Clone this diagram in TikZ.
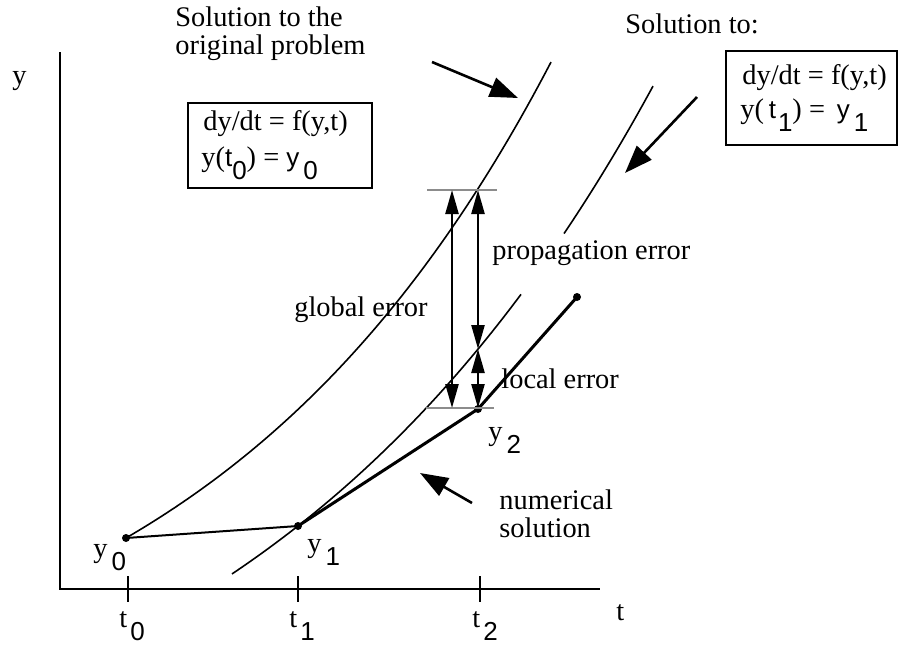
\documentclass[tikz,border=0pt]{standalone}
\usepackage{fontspec}
\setmainfont{Liberation Serif}
\newfontfamily\sfd{Liberation Sans}
\usetikzlibrary{arrows.meta}
\newcommand{\sbs}[1]{\raisebox{-6.5pt}{\sfd\fontsize{13}{13}\selectfont #1}}
\newcommand{\sfl}[1]{{\sfd\fontsize{13}{13}\selectfont #1}}
\begin{document}
\begin{tikzpicture}[x=0.5pt,y=-0.5pt,
  font=\fontsize{14.2}{14.2}\selectfont,
  axisline/.style={line width=1.3pt},
  curve/.style={line width=0.8pt},
  numthin/.style={line width=1pt},
  numthick/.style={line width=1.5pt},
  pointer/.style={line width=1.3pt,-{Triangle[length=14pt,width=10pt]}},
  errarrow/.style={line width=1.2pt,{Triangle[length=12pt,width=6.5pt]}-{Triangle[length=12pt,width=6.5pt]}},
  grayline/.style={line width=1pt,black!45},
  dot/.style={circle,fill,inner sep=0pt,minimum size=4pt},
  box/.style={draw,line width=1pt,inner sep=0pt},
  lbl/.style={inner sep=0pt}]
\useasboundingbox (0,0) rectangle (909,664);

% axes
\coordinate (ytop) at (60,52);
\coordinate (orig) at (60,589);
\coordinate (xend) at (600,589);
\draw[axisline] (ytop) -- (orig) -- (xend);
\foreach \n/\xx in {0/128,1/298,2/480}{
  \coordinate (tk\n a) at (\xx,576);
  \coordinate (tk\n b) at (\xx,602);
  \draw[axisline] (tk\n a) -- (tk\n b);
}
\node[lbl,anchor=base west] (t0) at (119,627) {t\hspace{1.5pt}\sbs{0}};
\node[lbl,anchor=base west] (t1) at (289,627) {t\hspace{1.5pt}\sbs{1}};
\node[lbl,anchor=base west] (t2) at (472,627) {t\hspace{1.5pt}\sbs{2}};
\node[lbl,anchor=base west] (tax) at (616,620) {t};
\node[lbl,anchor=base west] (yax) at (12,84) {y};

% exact solutions
\draw[curve] plot[domain=126:551,samples=70] (\x,{538-207.14*(exp(0.0028*(\x-126))-1)});
\draw[curve] plot[domain=232:521,samples=60] (\x,{526-328.125*(exp(0.0024*(\x-298))-1)});
\draw[curve] plot[domain=564:653,samples=20] (\x,{526-328.125*(exp(0.0024*(\x-298))-1)});

% numerical solution
\node[dot] (y0) at (126,538) {};
\node[dot] (y1) at (298,526) {};
\node[dot] (y2) at (478,409) {};
\node[dot] (y3) at (577,297) {};
\draw[numthin] (y0.center) -- (y1.center);
\draw[numthick] (y1.center) -- (y2.center) -- (y3.center);

\node[lbl,anchor=base west] (ly0) at (93,557) {y\hspace{2pt}\sbs{0}};
\node[lbl,anchor=base west] (ly1) at (307,552) {y\hspace{2pt}\sbs{1}};
\node[lbl,anchor=base west] (ly2) at (488,440) {y\hspace{2pt}\sbs{2}};

% error markers
\coordinate (gA) at (427,190); \coordinate (gB) at (497,190);
\coordinate (gC) at (426,408); \coordinate (gD) at (494,408);
\draw[grayline] (gA) -- (gB);
\draw[grayline] (gC) -- (gD);
\coordinate (geT) at (452,190); \coordinate (geB) at (452,408);
\coordinate (peT) at (478,190); \coordinate (peB) at (478,349);
\coordinate (leB) at (478,408);
\draw[errarrow] (geT) -- (geB);
\draw[errarrow] (peT) -- (peB);
\draw[errarrow] (peB) -- (leB);

\node[lbl] (glob) at (361,310) {global error};
\node[lbl,anchor=west] (prop) at (492,253) {propagation error};
\node[lbl,anchor=west] (loc) at (501,379) {local error};
\node[lbl,anchor=west,align=left] (num) at (499,514) {numerical\\solution};

% annotations
\node[lbl,anchor=west,align=left] (orig1) at (175,34) {Solution to the\\original problem};
\coordinate (p1s) at (432,62); \coordinate (p1e) at (518,98);
\draw[pointer] (p1s) -- (p1e);

\node[lbl,anchor=west] (sol2) at (625,24) {Solution to:};
\coordinate (p2s) at (697,97); \coordinate (p2e) at (625,173);
\draw[pointer] (p2s) -- (p2e);

\coordinate (p3s) at (472,503); \coordinate (p3e) at (420,473);
\draw[pointer] (p3s) -- (p3e);

% boxes
\node[box,minimum width=92pt,minimum height=42.5pt] (box1) at (280,145.5) {};
\node[lbl,anchor=west] (b1l1) at (203,124) {dy/dt = f(y,t)};
\node[lbl,anchor=base west] (b1l2) at (201,166) {y(\sfl{t}\sbs{0}) = \sfl{y}\hspace{2pt}\sbs{0}};

\node[box,minimum width=85.5pt,minimum height=47pt] (box2) at (811.5,98) {};
\node[lbl,anchor=west] (b2l1) at (742,78) {dy/dt = f(y,t)};
\node[lbl,anchor=base west] (b2l2) at (740,118) {y(\,\sfl{t}\hspace{1pt}\sbs{1}) = \,\sfl{y}\hspace{2pt}\sbs{1}};
\end{tikzpicture}
\end{document}
